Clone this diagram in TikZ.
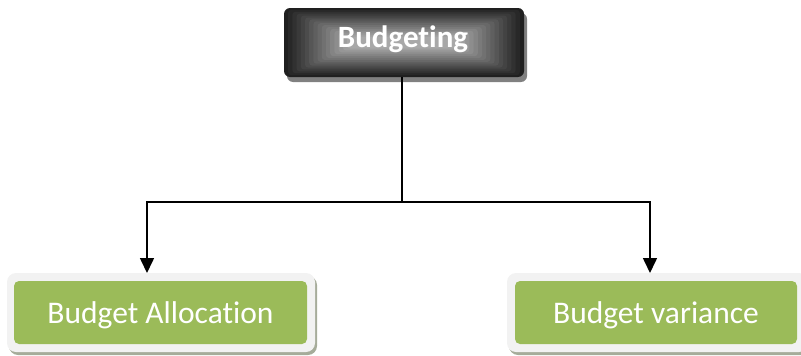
\documentclass[tikz,border=0pt]{standalone}
\usepackage{fontspec}
\setmainfont{Carlito}[Ligatures={NoCommon}]
\usetikzlibrary{arrows.meta,shadows,calc}
\definecolor{leaf}{HTML}{9BBB59}
\definecolor{framefill}{HTML}{F2F2F2}
\definecolor{frameshadow}{HTML}{A6AC9A}
\tikzset{
  topbox/.style={rounded corners=6pt, fill=black!88, inner sep=0pt, outer sep=0pt,
    drop shadow={shadow xshift=3pt, shadow yshift=-5pt, fill=black!50, opacity=1},
    path picture={
      \foreach \i in {1,...,15}{
        \pgfmathsetmacro\w{12+\i*3.6}
        \fill[white!\w!black, rounded corners=3pt]
          ($(path picture bounding box.north west)+(\i*4.2,\i*1.9)$) rectangle
          ($(path picture bounding box.south east)-(\i*4.2,\i*1.9)$);
      }
    }},
  toptext/.style={text=white, font=\bfseries\fontsize{31}{37}\selectfont, inner sep=0pt},
  framebox/.style={rounded corners=9pt, fill=framefill, inner sep=0pt, outer sep=0pt,
    drop shadow={shadow xshift=2pt, shadow yshift=-3pt, fill=frameshadow, opacity=1}},
  leafbox/.style={rounded corners=5pt, fill=leaf, inner sep=0pt, outer sep=0pt,
    text=white, text depth=0pt, font=\fontsize{31.5}{37}\selectfont},
  conn/.style={line width=1.6pt, black},
  arrowline/.style={conn, -{Triangle[width=14pt,length=15pt]}, shorten >=0pt}
}
\begin{document}
\begin{tikzpicture}[x=1pt,y=-1pt]
\useasboundingbox (0,0) rectangle (801,356);
% top box
\node[topbox, minimum width=240pt, minimum height=69pt] (top) at (404,42.5) {};
\node[toptext, anchor=base] (toplabel) at (403,47) {Budgeting};
% bottom boxes
\node[framebox, minimum width=308pt, minimum height=79pt] (leftframe) at (161,312.5) {};
\node[leafbox, minimum width=293pt, minimum height=63pt] (left) at (160.5,312.5) {Budget Allocation};
\node[framebox, minimum width=301pt, minimum height=79pt] (rightframe) at (657.5,312.5) {};
\node[leafbox, minimum width=282pt, minimum height=63pt] (right) at (656,312.5) {Budget variance};
% connectors
\coordinate (jl) at (147,202);
\coordinate (jr) at (650,202);
\draw[conn] ([xshift=-2pt]top.south) -- ([xshift=-2pt]top.south |- jl);
\draw[conn, line cap=rect] (jl) -- (jr);
\draw[arrowline] (jl) -- (jl |- leftframe.north);
\draw[arrowline] (jr) -- (jr |- rightframe.north);
\end{tikzpicture}
\end{document}
